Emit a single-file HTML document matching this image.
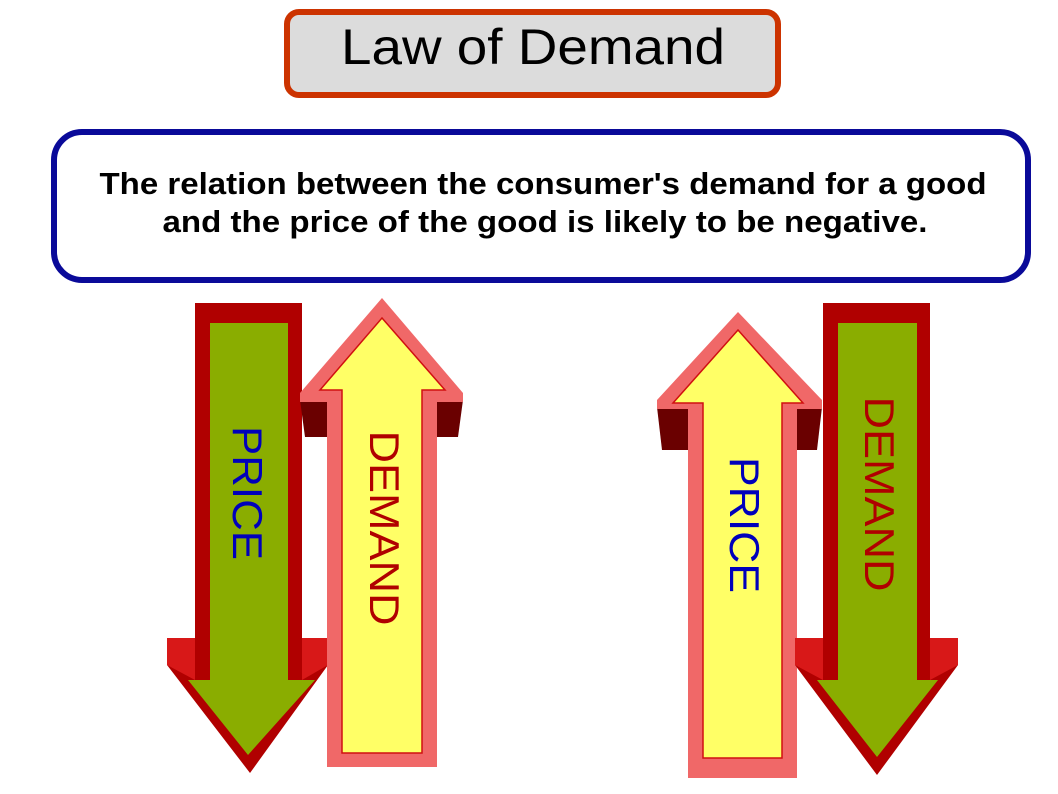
<!DOCTYPE html>
<html><head><meta charset="utf-8"><style>
html,body{margin:0;padding:0;background:#fff;width:1058px;height:794px;overflow:hidden}
svg{display:block}
text{font-family:"Liberation Sans",sans-serif}
</style></head><body>
<svg width="1058" height="794" viewBox="0 0 1058 794" xmlns="http://www.w3.org/2000/svg">
<!-- title -->
<rect x="287" y="12" width="491" height="83" rx="12" fill="#dcdcdc" stroke="#cc3300" stroke-width="6"/>
<text x="533" y="64" font-size="50" text-anchor="middle" textLength="384" lengthAdjust="spacingAndGlyphs" fill="#000">Law of Demand</text>
<!-- description -->
<rect x="54" y="132" width="974" height="148" rx="28" fill="#fff" stroke="#0a0a99" stroke-width="6"/>
<text x="543" y="194" font-size="31" text-anchor="middle" textLength="887" lengthAdjust="spacingAndGlyphs" fill="#000" font-weight="bold">The relation between the consumer's demand for a good</text>
<text x="545" y="232" font-size="31" text-anchor="middle" textLength="765" lengthAdjust="spacingAndGlyphs" fill="#000" font-weight="bold">and the price of the good is likely to be negative.</text>

<!-- LEFT DOWN ARROW (PRICE) -->
<polygon points="195,303 302,303 302,638 328,638 328,665 250,773 167,665 167,638 195,638" fill="#b00000"/>
<polygon points="167,638 195,638 195,680 167,665" fill="#d81818"/>
<polygon points="302,638 328,638 328,665 302,680" fill="#d81818"/>
<polygon points="210,323 288,323 288,680 315,680 248,755 188,680 210,680" fill="#8aad00"/>
<text transform="translate(233,493) rotate(90)" font-size="42" text-anchor="middle" textLength="134" lengthAdjust="spacingAndGlyphs" fill="#0000bb">PRICE</text>

<!-- LEFT UP ARROW (DEMAND) -->
<polygon points="300,400 463,400 458,437 305,437" fill="#6a0000"/>
<polygon points="382,298 463,393 463,402 437,402 437,767 327,767 327,402 300,402 300,393" fill="#f06868"/>
<polygon points="382,318 445,390 422,390 422,753 342,753 342,390 320,390" fill="#ffff66"/>
<polygon points="382,318 445,390 422,390 422,753 342,753 342,390 320,390" fill="none" stroke="#d01010" stroke-width="1.5"/>
<text transform="translate(370,528) rotate(90)" font-size="42" text-anchor="middle" textLength="195" lengthAdjust="spacingAndGlyphs" fill="#b00000">DEMAND</text>

<!-- RIGHT UP ARROW (PRICE) -->
<polygon points="657,407 822,407 817,450 662,450" fill="#6a0000"/>
<polygon points="738,312 822,400 822,409 797,409 797,778 688,778 688,409 657,409 657,400" fill="#f06868"/>
<polygon points="738,330 803,403 782,403 782,758 703,758 703,403 673,403" fill="#ffff66"/>
<polygon points="738,330 803,403 782,403 782,758 703,758 703,403 673,403" fill="none" stroke="#d01010" stroke-width="1.5"/>
<text transform="translate(730,525) rotate(90)" font-size="42" text-anchor="middle" textLength="136" lengthAdjust="spacingAndGlyphs" fill="#0000bb">PRICE</text>

<!-- RIGHT DOWN ARROW (DEMAND) -->
<polygon points="823,303 930,303 930,638 958,638 958,665 877,775 795,665 795,638 823,638" fill="#b00000"/>
<polygon points="795,638 823,638 823,680 795,665" fill="#d81818"/>
<polygon points="930,638 958,638 958,665 930,680" fill="#d81818"/>
<polygon points="838,323 917,323 917,680 938,680 877,757 817,680 838,680" fill="#8aad00"/>
<text transform="translate(865,494) rotate(90)" font-size="42" text-anchor="middle" textLength="195" lengthAdjust="spacingAndGlyphs" fill="#b00000">DEMAND</text>
</svg>
</body></html>
